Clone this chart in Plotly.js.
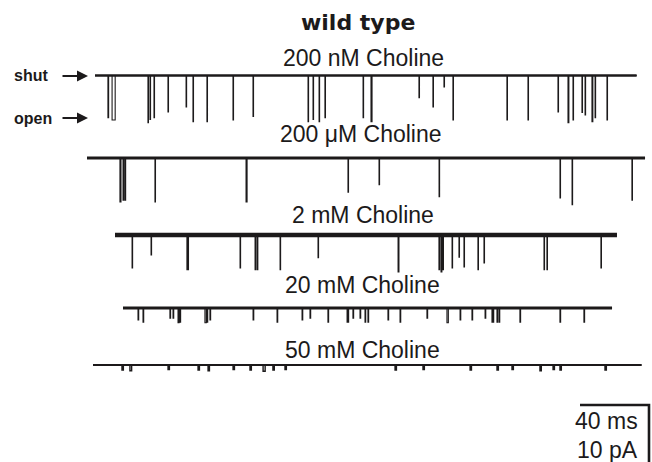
<!DOCTYPE html>
<html><head><meta charset="utf-8">
<script src="https://cdn.plot.ly/plotly-3.0.1.min.js"></script>
<style>html,body{margin:0;padding:0;background:#fff}#chart{width:652px;height:462px}</style>
</head><body><div id="chart"></div>
<script>
// ---- data: opening events (time from trace start, ms) and amplitude (pA) ----
const labels = ["200 nM Choline", "200 \u03bcM Choline", "2 mM Choline", "20 mM Choline", "50 mM Choline"];
const traceLength_ms = [314, 323.5, 291, 283.5, 318];

const t1_times = [7.5, 9.9, 30.7, 31.9, 34.2, 42.3, 52.8, 56.8, 64.9, 80.0, 91.6, 123.5, 126.4, 129.9, 133.3, 155.4, 160.0, 187.8, 195.9, 202.3, 207.5, 238.8, 251.0, 268.4, 274.2, 277.1, 282.3, 284.1, 288.1, 289.9, 296.8];
const t1_amps  = [7.4, 7.8, 8.3, 7.7, 7.4, 6.4, 5.5, 8.1, 8.1, 7.8, 7.2, 8.1, 7.7, 8.1, 7.4, 7.4, 8.1, 3.9, 5.5, 2.0, 7.8, 7.8, 7.8, 6.4, 8.3, 7.8, 6.5, 6.9, 8.1, 7.4, 7.8];
const t1_durs  = [0.4, 1.8, 0.3, 0.3, 0.3, 0.3, 0.3, 0.3, 0.3, 0.3, 0.3, 0.3, 0.3, 0.3, 0.3, 0.3, 0.6, 0.3, 0.3, 0.3, 0.3, 0.3, 0.3, 0.3, 0.5, 0.3, 0.3, 0.3, 0.5, 0.3, 0.3];

const t2_times = [19.1, 20.9, 22.0, 39.4, 92.2, 151.3, 169.3, 204.1, 274.2, 281.2, 315.9];
const t2_amps  = [7.7, 7.4, 7.4, 7.7, 7.7, 6.0, 4.7, 6.8, 7.0, 8.2, 7.4];
const t2_durs  = [0.6, 0.4, 0.4, 0.3, 0.6, 0.3, 0.3, 0.3, 0.3, 0.3, 0.3];

const t3_times = [9.9, 20.9, 41.7, 42.3, 72.5, 81.2, 82.3, 95.7, 117.7, 164.1, 187.8, 189.0, 190.1, 195.4, 199.4, 202.3, 210.4, 213.9, 248.7, 250.4, 281.7];
const t3_amps  = [5.8, 3.5, 6.1, 6.1, 5.8, 6.1, 6.1, 6.1, 4.0, 6.5, 6.1, 6.5, 6.1, 5.8, 3.9, 5.6, 6.1, 4.9, 6.1, 6.1, 5.8];
const t3_durs  = [0.3, 0.3, 0.3, 0.3, 0.3, 0.3, 0.5, 0.3, 0.3, 0.5, 0.4, 0.5, 0.3, 0.3, 0.3, 0.3, 0.3, 0.3, 0.3, 0.3, 0.3];

const t4_times = [8.7, 11.6, 27.2, 29.0, 31.9, 33.0, 47.5, 48.7, 50.4, 75.4, 89.3, 103.8, 108.4, 118.8, 129.9, 130.4, 133.3, 137.4, 140.3, 142.0, 153.6, 160.6, 176.2, 187.8, 195.4, 202.3, 209.9, 213.9, 214.5, 216.8, 218.0, 230.1, 253.3, 267.2];
const t4_amps  = [2.1, 2.5, 1.8, 1.8, 2.6, 2.5, 2.6, 2.5, 2.1, 2.1, 2.5, 2.1, 1.8, 2.5, 2.5, 2.5, 1.8, 1.8, 2.5, 2.5, 2.1, 2.5, 1.8, 2.6, 2.1, 2.1, 1.8, 2.5, 2.5, 2.5, 2.5, 2.5, 2.5, 2.5];
const t4_durs  = [0.4, 0.4, 0.4, 0.4, 0.6, 0.4, 0.8, 0.4, 0.4, 0.4, 0.4, 0.4, 0.4, 0.4, 0.4, 0.4, 0.4, 0.4, 0.4, 0.4, 0.4, 0.4, 0.4, 0.8, 0.4, 0.4, 0.4, 0.4, 0.4, 0.4, 0.4, 0.4, 0.4, 0.4];

const t5_times = [16.8, 21.4, 43.5, 60.9, 66.7, 81.2, 91.0, 98.6, 104.3, 111.3, 175.1, 191.3, 218.6, 234.2, 242.9, 259.1, 266.7, 270.7, 296.8];
const t5_amps  = [0.9, 1.0, 0.8, 0.9, 1.0, 0.8, 0.9, 1.1, 0.9, 0.8, 0.9, 0.8, 0.9, 0.9, 0.8, 1.0, 0.8, 0.9, 0.9];
const t5_durs  = [0.8, 1.0, 0.8, 0.8, 0.8, 0.8, 0.8, 1.2, 0.8, 0.8, 0.8, 0.8, 0.8, 0.8, 0.8, 0.8, 0.8, 0.8, 0.8];

const scaleTime_ms = 40;
const scaleCurrent_pA = 10;

// ---- layout geometry (pixel placement on the 652x462 page) ----
const W = 652, H = 462;
const PX_PER_MS = 69 / 40, PX_PER_PA = 57 / 10;
const xs = px => px / PX_PER_MS;      // px -> ms axis units
const ys = px => -px / PX_PER_PA;     // px -> pA axis units (down is negative)

const placement = [
  {x0: 95,  base: 75.5, noise: 2.4, label: [363, 58]},
  {x0: 87,  base: 158,  noise: 2.8, label: [361, 134]},
  {x0: 115, base: 235,  noise: 4.4, label: [363, 215]},
  {x0: 123, base: 308,  noise: 2.8, label: [362, 285]},
  {x0: 93,  base: 365,  noise: 2.2, label: [362, 350]}
];
const evTimes = [t1_times, t2_times, t3_times, t4_times, t5_times];
const evAmps  = [t1_amps, t2_amps, t3_amps, t4_amps, t5_amps];
const evDurs  = [t1_durs, t2_durs, t3_durs, t4_durs, t5_durs];

const data = [];
const annotations = [];
const font = "Liberation Sans, Arial, sans-serif";
const ink = "#1c1a1b";

placement.forEach((p, i) => {
  const xStart = xs(p.x0), yBase = ys(p.base);
  const L = traceLength_ms[i];
  data.push({type: "scatter", mode: "lines", x: [xStart, xStart + L], y: [yBase, yBase],
    line: {color: ink, width: p.noise}, hoverinfo: "skip", showlegend: false});
  const x = [xStart], y = [yBase];
  evTimes[i].forEach((t, k) => {
    const a = evAmps[i][k], d = evDurs[i][k];
    x.push(xStart + t, xStart + t, xStart + t + d, xStart + t + d);
    y.push(yBase, yBase - a, yBase - a, yBase);
  });
  x.push(xStart + L); y.push(yBase);
  data.push({type: "scatter", mode: "lines", x, y,
    line: {color: ink, width: i === 4 ? 1.4 : 1.1}, hoverinfo: "skip", showlegend: false});
  annotations.push({x: xs(p.label[0]), y: ys(p.label[1]), text: labels[i], showarrow: false,
    xanchor: "center", yanchor: "middle", font: {family: font, size: 23, color: ink}});
});

// scale bar
const sbRight = xs(649), sbTop = ys(405);
data.push({type: "scatter", mode: "lines",
  x: [sbRight - scaleTime_ms, sbRight, sbRight],
  y: [sbTop, sbTop, sbTop - scaleCurrent_pA],
  line: {color: ink, width: 2.6}, hoverinfo: "skip", showlegend: false});
annotations.push({x: xs(640), y: ys(421), text: scaleTime_ms + " ms", showarrow: false,
  xanchor: "right", yanchor: "middle", font: {family: font, size: 23, color: ink}});
annotations.push({x: xs(640), y: ys(450), text: scaleCurrent_pA + " pA", showarrow: false,
  xanchor: "right", yanchor: "middle", font: {family: font, size: 23, color: ink}});

// title
annotations.push({x: xs(358), y: ys(22), text: "<b>wild type</b>", showarrow: false,
  xanchor: "center", yanchor: "middle", font: {family: "DejaVu Sans, sans-serif", size: 22, color: ink}});

// shut / open markers
[["shut", 75, 76], ["open", 118, 118]].forEach(([t, py, ay]) => {
  annotations.push({x: xs(12), y: ys(py), text: "<b>" + t + "</b>", showarrow: false,
    xanchor: "left", yanchor: "middle", font: {family: font, size: 16, color: ink}});
  annotations.push({x: xs(88), y: ys(ay), ax: xs(61), ay: ys(ay), axref: "x", ayref: "y",
    text: "", showarrow: true, arrowhead: 2, arrowsize: 1, arrowwidth: 2.2, arrowcolor: ink});
});

const layout = {
  width: W, height: H, margin: {l: 0, r: 0, t: 0, b: 0},
  paper_bgcolor: "#fff", plot_bgcolor: "#fff",
  xaxis: {range: [0, xs(W)], visible: false, fixedrange: true},
  yaxis: {range: [ys(H), 0], visible: false, fixedrange: true},
  annotations, showlegend: false
};
Plotly.newPlot("chart", data, layout, {staticPlot: true, displayModeBar: false});
</script></body></html>
